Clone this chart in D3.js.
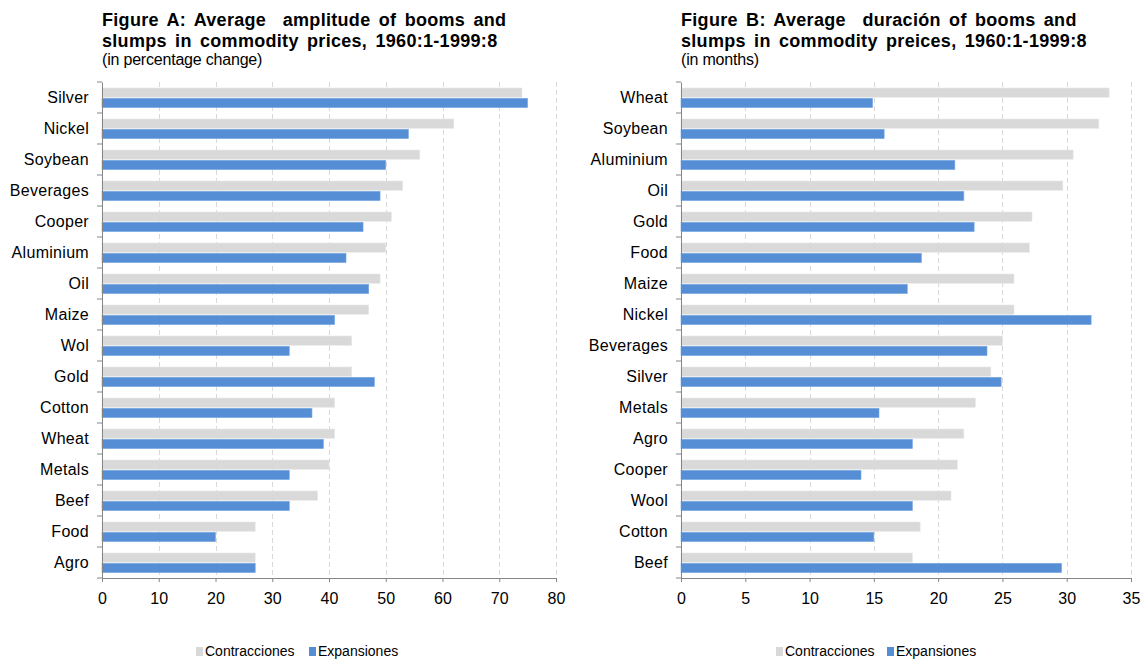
<!DOCTYPE html>
<html><head><meta charset="utf-8">
<script src="https://cdn.jsdelivr.net/npm/d3@7"></script>
<style>
body{margin:0;background:#fff;}
svg{font-family:"Liberation Sans",Arial,sans-serif;}
text{white-space:pre;}
</style></head>
<body><svg id="chart" width="1148" height="664"></svg>
<script>
// ---- Data ----
const seriesNames = ["Contracciones", "Expansiones"];
const catsA = ["Silver","Nickel","Soybean","Beverages","Cooper","Aluminium","Oil","Maize","Wol","Gold","Cotton","Wheat","Metals","Beef","Food","Agro"];
const contrA = [74,62,56,53,51,50,49,47,44,44,41,41,40,38,27,27];
const expA   = [75,54,50,49,46,43,47,41,33,48,37,39,33,33,20,27];
const ticksA = [0,10,20,30,40,50,60,70,80];

const catsB = ["Wheat","Soybean","Aluminium","Oil","Gold","Food","Maize","Nickel","Beverages","Silver","Metals","Agro","Cooper","Wool","Cotton","Beef"];
const contrB = [33.3,32.5,30.5,29.7,27.3,27.1,25.9,25.9,25.0,24.1,22.9,22.0,21.5,21.0,18.6,18.0];
const expB   = [14.9,15.8,21.3,22.0,22.8,18.7,17.6,31.9,23.8,24.9,15.4,18.0,14.0,18.0,15.0,29.6];
const ticksB = [0,5,10,15,20,25,30,35];

const titleA = ["Figure A: Average  amplitude of booms and","slumps in commodity prices, 1960:1-1999:8"];
const subA = "(in percentage change)";
const titleB = ["Figure B: Average  duración of booms and","slumps in commodity preices, 1960:1-1999:8"];
const subB = "(in months)";

const colors = ["#d9d9d9","#558ed5"];
const svg = d3.select("#chart");

function panel(opt){
  const g = svg.append("g");
  const x = d3.scaleLinear().domain([opt.ticks[0], opt.ticks[opt.ticks.length-1]]).range([opt.x0, opt.x1]);
  const y = d3.scaleBand().domain(opt.cats).range([opt.top, opt.bottom]).paddingInner(0).paddingOuter(0);
  const bw = y.bandwidth();
  const bh = 9.3;
  // gridlines
  g.selectAll(".grid").data(opt.ticks.slice(1)).join("line")
    .attr("x1", d=>Math.round(x(d))+0.5).attr("x2", d=>Math.round(x(d))+0.5)
    .attr("y1", opt.top).attr("y2", opt.bottom)
    .attr("stroke","#d9d9d9").attr("stroke-width",1).attr("stroke-dasharray","5,3");
  // bars
  const vals = [opt.contr, opt.exp];
  vals.forEach((arr, si)=>{
    g.selectAll(".b"+si).data(opt.cats).join("rect")
      .attr("x", x(0))
      .attr("y", (d)=> y(d) + 6 + si*(bh+1))
      .attr("width", (d,i)=> x(arr[i]) - x(0))
      .attr("height", bh)
      .attr("fill", colors[si])
      .attr("stroke", si===0 ? "#e8e8e8" : "#7aa9e4").attr("stroke-width",0.6);
  });
  // left axis
  const yAxis = d3.axisLeft(y).tickSize(0).tickPadding(13);
  const ya = g.append("g").attr("transform",`translate(${x(0)},0)`).call(yAxis);
  ya.select(".domain").attr("stroke","#868686");
  ya.selectAll("text").attr("font-size",16).attr("fill","#000").attr("letter-spacing","0.3px").attr("font-family","Liberation Sans, Arial, sans-serif");
  // band boundary ticks
  const bounds = opt.cats.map(c=>y(c)).concat([opt.bottom]);
  g.selectAll(".bt").data(bounds).join("line")
    .attr("x1", x(0)-5).attr("x2", x(0)).attr("y1", d=>d).attr("y2", d=>d)
    .attr("stroke","#868686");
  // bottom axis
  const xAxis = d3.axisBottom(x).tickValues(opt.ticks).tickSize(4).tickPadding(11).tickFormat(d3.format("d"));
  const xa = g.append("g").attr("transform",`translate(0,${opt.bottom})`).call(xAxis);
  xa.select(".domain").attr("stroke","#868686");
  xa.selectAll(".tick line").attr("stroke","#868686");
  xa.selectAll("text").attr("font-size",16).attr("fill","#000").attr("font-family","Liberation Sans, Arial, sans-serif");
  // titles
  opt.title.forEach((t,i)=>{
    g.append("text").attr("x",opt.x0).attr("y",26+i*21).attr("font-size",18).attr("font-weight","bold")
      .attr("letter-spacing","0.3px").attr("word-spacing","3px").attr("fill","#000").text(t);
  });
  g.append("text").attr("x",opt.x0).attr("y",65).attr("font-size",16).attr("letter-spacing","-0.2px").attr("fill","#000").text(opt.sub);
  // legend
  const lg = g.append("g").attr("transform",`translate(${opt.lx},656)`);
  seriesNames.forEach((n,i)=>{
    const ox = i===0 ? 0 : opt.lgap;
    lg.append("rect").attr("x",ox).attr("y",-9).attr("width",7).attr("height",9).attr("fill",colors[i]);
    lg.append("text").attr("x",ox+9).attr("y",0).attr("font-size",14).attr("fill","#000").text(n);
  });
}

panel({cats:catsA, contr:contrA, exp:expA, ticks:ticksA, x0:102, x1:556, top:82, bottom:578, title:titleA, sub:subA, lx:196, lgap:113});
panel({cats:catsB, contr:contrB, exp:expB, ticks:ticksB, x0:681, x1:1131, top:82, bottom:578, title:titleB, sub:subB, lx:776, lgap:111});
</script></body></html>
